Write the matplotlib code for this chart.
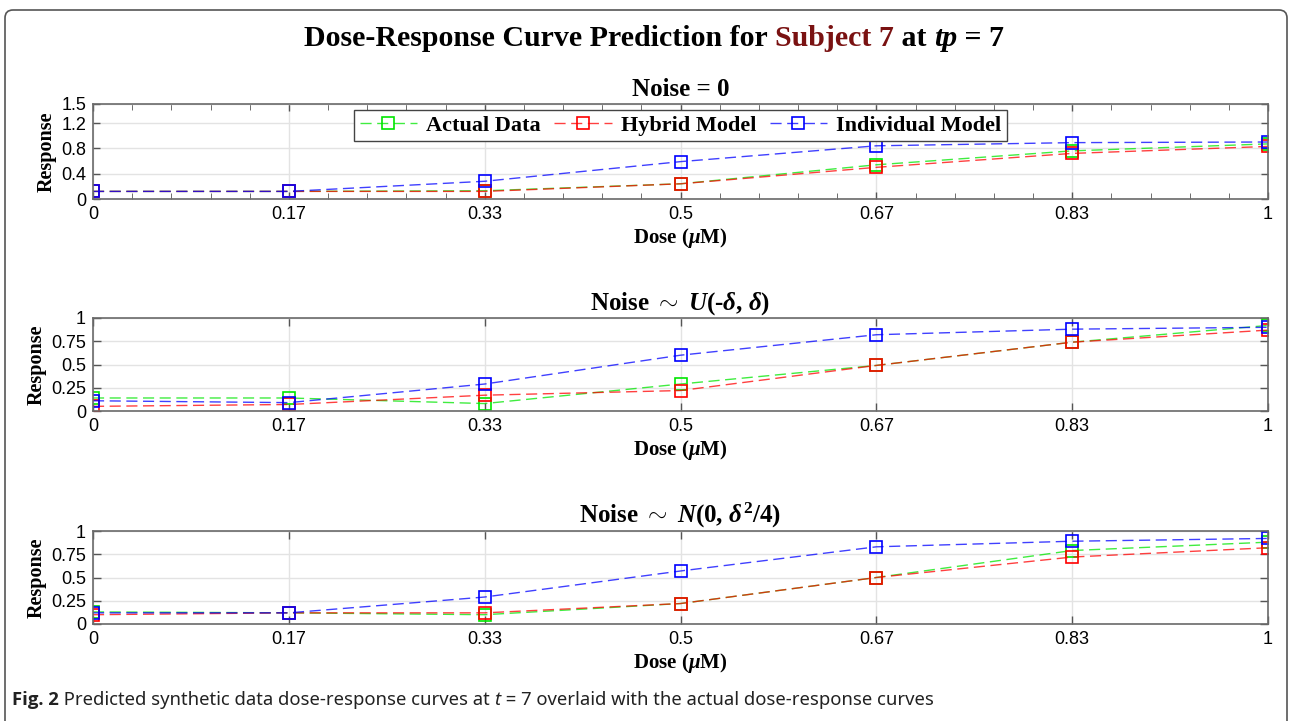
import matplotlib
matplotlib.use("Agg")
import matplotlib.pyplot as plt
import numpy as np
from matplotlib.patches import FancyBboxPatch

plt.rcParams['font.family'] = ['Liberation Sans', 'DejaVu Sans']
plt.rcParams['mathtext.fontset'] = 'custom'
plt.rcParams['mathtext.rm'] = 'Liberation Serif:bold'
plt.rcParams['mathtext.it'] = 'Liberation Serif:italic:bold'
plt.rcParams['mathtext.bf'] = 'Liberation Serif:bold'

# data
dose = [0, 1/6, 2/6, 3/6, 4/6, 5/6, 1]
dose_labels = ["0", "0.17", "0.33", "0.5", "0.67", "0.83", "1"]

actual_0 = [0.12, 0.12, 0.13, 0.24, 0.54, 0.76, 0.87]
hybrid_0 = [0.12, 0.12, 0.12, 0.24, 0.50, 0.72, 0.83]
indiv_0 = [0.12, 0.12, 0.28, 0.59, 0.84, 0.89, 0.90]

actual_u = [0.14, 0.14, 0.08, 0.29, 0.49, 0.74, 0.92]
hybrid_u = [0.05, 0.07, 0.17, 0.22, 0.49, 0.74, 0.87]
indiv_u = [0.11, 0.09, 0.29, 0.60, 0.82, 0.88, 0.90]

actual_n = [0.13, 0.12, 0.10, 0.22, 0.50, 0.79, 0.88]
hybrid_n = [0.10, 0.12, 0.12, 0.22, 0.50, 0.72, 0.82]
indiv_n = [0.12, 0.12, 0.29, 0.57, 0.83, 0.89, 0.92]

series_names = ["Actual Data", "Hybrid Model", "Individual Model"]
series_colors = ["#00e600", "#ff0000", "#0000ff"]

panel_titles = ["Noise = 0",
                r"Noise $\sim$ $U$(-$\delta$, $\delta$)",
                r"Noise $\sim$ $N$(0, $\delta^2$/4)"]
panel_data = [(actual_0, hybrid_0, indiv_0),
              (actual_u, hybrid_u, indiv_u),
              (actual_n, hybrid_n, indiv_n)]
panel_yticks = [[0, 0.4, 0.8, 1.2, 1.5], [0, 0.25, 0.5, 0.75, 1], [0, 0.25, 0.5, 0.75, 1]]
panel_yticklabels = [["0", "0.4", "0.8", "1.2", "1.5"],
                     ["0", "0.25", "0.5", "0.75", "1"],
                     ["0", "0.25", "0.5", "0.75", "1"]]

W, H = 1289, 721
fig = plt.figure(figsize=(W/100, H/100), dpi=100)

serif = 'Liberation Serif'
left = 93/W
width = (1268-93)/W
tops = [104, 318, 531]
heights = [95, 93, 93]

axes = []
for k in range(3):
    ax = fig.add_axes([left, 1-(tops[k]+heights[k])/H, width, heights[k]/H])
    axes.append(ax)
    for vals, name, col in zip(panel_data[k], series_names, series_colors):
        rgba = matplotlib.colors.to_rgba(col, 0.75)
        ax.plot(dose, vals, linestyle=(0, (8, 4)), color=rgba, lw=1.0,
                marker='s', markersize=9, markerfacecolor='none',
                markeredgecolor=col, markeredgewidth=1.2, label=name)
    ax.set_xlim(0, 1)
    ax.set_ylim(panel_yticks[k][0], panel_yticks[k][-1])
    ax.set_xticks(dose)
    ax.set_xticklabels(dose_labels)
    ax.set_yticks(panel_yticks[k])
    ax.set_yticklabels(panel_yticklabels[k])
    ax.grid(True, color='#e3e3e3', lw=1.0)
    ax.set_axisbelow(True)
    ax.tick_params(direction='in', top=True, right=True, length=6, width=1.0,
                   color='#555555', labelsize=13, pad=5)
    for sp in ax.spines.values():
        sp.set_color('#6a6a6a')
        sp.set_linewidth(1.2)
    ax.set_title(panel_titles[k], fontfamily=serif, fontweight='bold', fontsize=18, pad=6)
    ax.set_xlabel(r"Dose ($\mu$M)", fontfamily=serif, fontweight='bold', fontsize=15, labelpad=2)
    ax.set_ylabel("Response", fontfamily=serif, fontweight='bold', fontsize=14.5, labelpad=3)

# first panel has minor ticks on the dose axis
axes[0].set_xticks(np.arange(31)/30, minor=True)
axes[0].tick_params(which='minor', direction='in', top=True, length=4, color='#555555')
axes[0].tick_params(which='major', length=5)

leg = axes[0].legend(loc='upper center', ncol=3, numpoints=1, handlelength=2.6,
                     handletextpad=0.4, columnspacing=0.6, borderaxespad=0.25,
                     borderpad=0.25, fancybox=False, framealpha=1,
                     prop={'family': serif, 'weight': 'bold', 'size': 16})
leg.get_frame().set_edgecolor('#444444')
leg.get_frame().set_linewidth(1.0)

# rounded frame round the figure
frame = FancyBboxPatch((0.05, -0.3), 12.82, 7.41,
                       boxstyle="round,pad=0,rounding_size=0.08",
                       transform=fig.dpi_scale_trans, fill=False,
                       edgecolor='#555555', lw=1.2)
fig.patches.append(frame)


def place_pieces(pieces, x, y, ha='center'):
    renderer = fig.canvas.get_renderer()
    texts = [fig.text(0, y, s, va='baseline', **kw) for s, kw in pieces]
    widths = [t.get_window_extent(renderer).width for t in texts]
    start = x*W - sum(widths)/2 if ha == 'center' else x*W
    for t, w in zip(texts, widths):
        t.set_x(start/W)
        start += w


tkw = dict(fontfamily=serif, fontweight='bold', fontsize=21.5)
place_pieces([("Dose-Response Curve Prediction for ", dict(tkw, color='black')),
              ("Subject 7", dict(tkw, color='#7a1212')),
              (" at ", dict(tkw, color='black')),
              ("tp", dict(tkw, style='italic', color='black')),
              (" = 7", dict(tkw, color='black'))],
             654/W, 1-46/H)

ckw = dict(fontfamily='Noto Sans', fontsize=13.3, color='#222222')
place_pieces([("Fig. 2", dict(ckw, fontfamily='Open Sans', fontweight='bold')),
              (" Predicted synthetic data dose-response curves at ", ckw),
              ("t", dict(ckw, style='italic')),
              (" = 7 overlaid with the actual dose-response curves", ckw)],
             12/W, 1-705/H, ha='left')

fig.savefig("out.png", dpi=100)
